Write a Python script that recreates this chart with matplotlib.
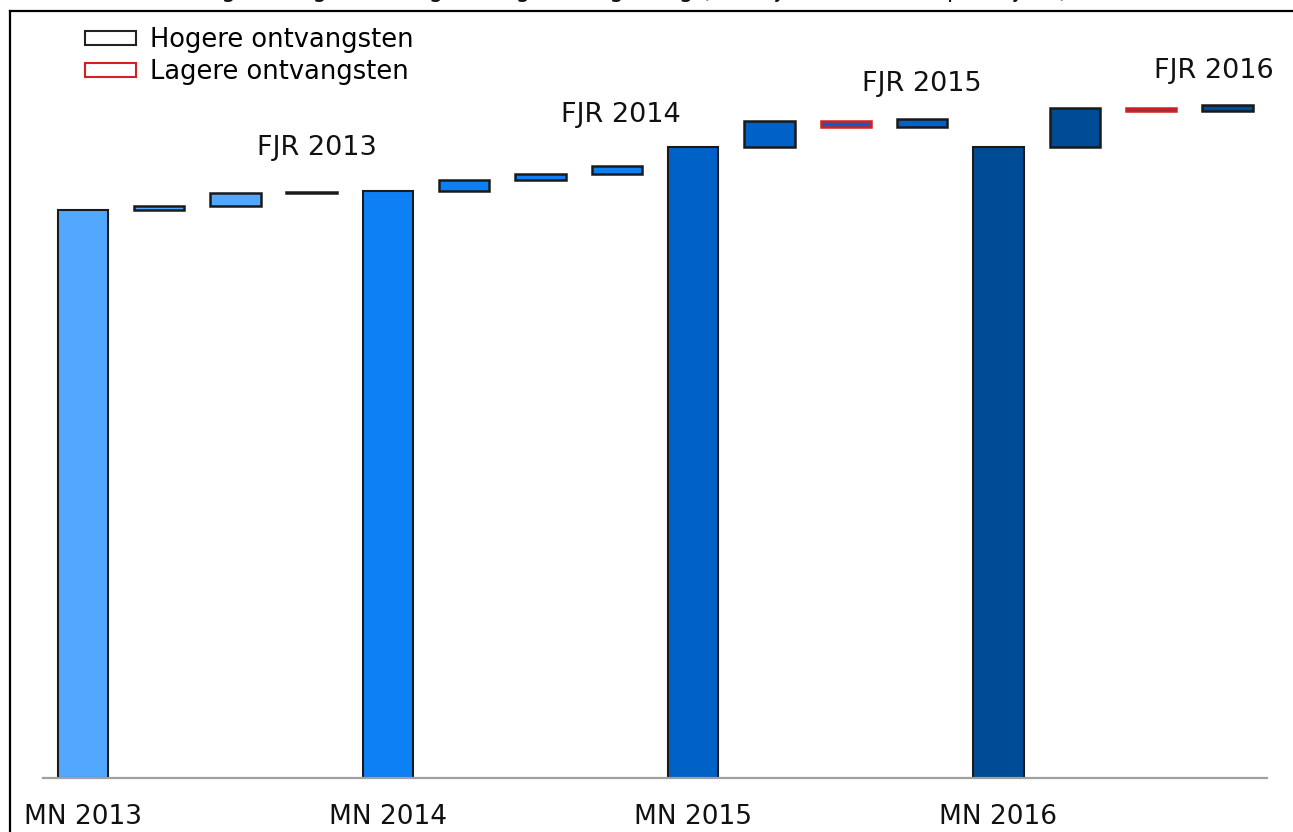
import matplotlib.pyplot as plt
from matplotlib.patches import Patch
from matplotlib.lines import Line2D

# Miljoenennota (MN) starting levels, in billions of euro
mn_labels = ["MN 2013", "MN 2014", "MN 2015", "MN 2016"]
mn_values = [246.0, 254.2, 273.3, 273.3]

# Changes between MN and FJR (three steps per year)
step_changes = [
    [1.7, 5.6, 0.6],
    [4.8, 2.6, 3.5],
    [11.3, -2.6, 3.5],
    [16.9, -1.3, 2.6],
]
fjr_labels = ["FJR 2013", "FJR 2014", "FJR 2015", "FJR 2016"]

year_colors = ["#52a8ff", "#0e80f6", "#0062c6", "#004b95"]
label_offsets = [(4, 22), (3, 27), (0, 16), (-10, 15)]  # points, relative to group top
title = "Ontwikkeling raming belastingen volgens begroting (in miljarden euro, lopend jaar)"

fig = plt.figure(figsize=(12.93, 8.32), dpi=100)
ax = fig.add_axes([0.0333, 0.0649, 0.9466, 0.887])

width = 0.66
x = 0
for i, start in enumerate(mn_values):
    color = year_colors[i]
    ax.bar(x, start, width=width, color=color, edgecolor="#1a1a1a", linewidth=1.5)
    level = start
    top = start
    for d in step_changes[i]:
        x += 1
        edge = "#1a1a1a" if d >= 0 else "#d42020"
        ax.bar(x, abs(d), bottom=min(level, level + d), width=width,
               color=color, edgecolor=edge, linewidth=1.8)
        level += d
        top = max(top, level)
    ax.annotate(fjr_labels[i], xy=(x, top), xytext=label_offsets[i],
                textcoords="offset points", ha="center", va="bottom",
                fontsize=19.5, color="#111111")
    x += 1

ax.set_xlim(-0.52, 15.52)
ax.set_ylim(0, 319.6)
ax.set_xticks([0, 4, 8, 12])
ax.set_xticklabels(mn_labels, fontsize=19, color="#111111")
ax.tick_params(axis="x", length=0, pad=19)
ax.set_yticks([])
for s in ["top", "right", "left"]:
    ax.spines[s].set_visible(False)
ax.spines["bottom"].set_color("#a0a0a0")
ax.spines["bottom"].set_linewidth(1.6)

handles = [Patch(facecolor="white", edgecolor="#222222", linewidth=1.5),
           Patch(facecolor="white", edgecolor="#d42020", linewidth=1.5)]
ax.legend(handles, ["Hogere ontvangsten", "Lagere ontvangsten"], loc="upper left",
          bbox_to_anchor=(0.015, 1.049), frameon=False, fontsize=18.5,
          handlelength=2.0, handleheight=0.45, handletextpad=0.55, labelspacing=0.25)

# frame and clipped title
fig.add_artist(Line2D([10 / 1293, 1.0], [821 / 832, 821 / 832], color="black", linewidth=1.6))
fig.add_artist(Line2D([10 / 1293, 10 / 1293], [0, 821 / 832], color="black", linewidth=1.6))
fig.text(0.445, 1.004, title, ha="center", va="baseline", fontsize=17, color="#111111")

fig.savefig("out.png", dpi=100)
